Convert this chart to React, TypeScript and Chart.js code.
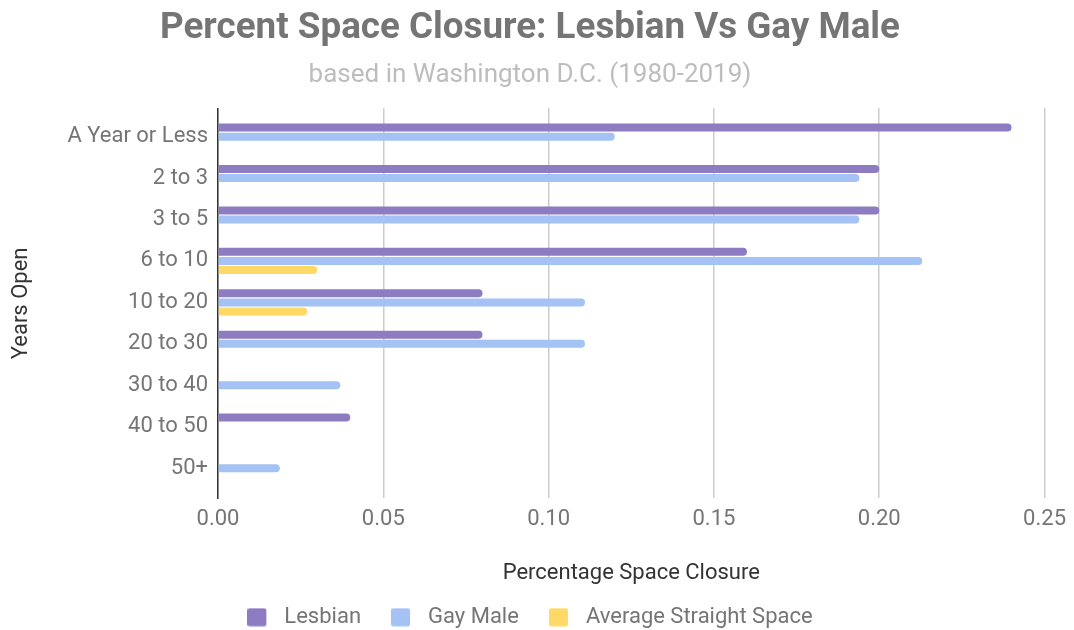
import React, { useEffect, useRef } from "react";
import { Chart, registerables } from "chart.js";

Chart.register(...registerables);

const categories = ["A Year or Less", "2 to 3", "3 to 5", "6 to 10", "10 to 20", "20 to 30", "30 to 40", "40 to 50", "50+"];
const lesbian = [0.24, 0.2, 0.2, 0.16, 0.08, 0.08, 0, 0.04, 0];
const gayMale = [0.12, 0.194, 0.194, 0.213, 0.111, 0.111, 0.037, 0, 0.0187];
const straight = [0, 0, 0, 0.03, 0.027, 0, 0, 0, 0];
const xTicks = [0, 0.05, 0.1, 0.15, 0.2, 0.25];
const seriesColors = ["#8e7cc3", "#a4c2f4", "#ffd966"];

const toPoints = (arr: number[]) => arr.map((v, i) => ({ x: v, y: i }));

function legendSwatch(color: string): HTMLCanvasElement {
  const c = document.createElement("canvas");
  c.width = 26;
  c.height = 19;
  const ctx = c.getContext("2d")!;
  ctx.fillStyle = color;
  ctx.beginPath();
  if ((ctx as any).roundRect) (ctx as any).roundRect(0, 0.5, 19, 18, 2);
  else ctx.rect(0, 0.5, 19, 18);
  ctx.fill();
  return c;
}

export default function App() {
  const ref = useRef<HTMLCanvasElement>(null);
  useEffect(() => {
    if (!ref.current) return;
    const font = "Roboto";
    const swatches = seriesColors.map(legendSwatch);
    const chart = new Chart(ref.current, {
      type: "bar",
      data: {
        datasets: [
          { label: "Lesbian", data: toPoints(lesbian), backgroundColor: seriesColors[0], borderRadius: 4 },
          { label: "Gay Male", data: toPoints(gayMale), backgroundColor: seriesColors[1], borderRadius: 4 },
          { label: "Average Straight Space", data: toPoints(straight), backgroundColor: seriesColors[2], borderRadius: 4 },
        ],
      },
      options: {
        indexAxis: "y",
        animation: false,
        responsive: true,
        maintainAspectRatio: false,
        datasets: { bar: { categoryPercentage: 0.66, barPercentage: 0.88 } },
        layout: { padding: { left: 12, right: 26, top: 0, bottom: -8.2 } },
        plugins: {
          title: {
            display: true,
            text: "Percent Space Closure: Lesbian Vs Gay Male",
            color: "#757575",
            font: { family: font, size: 36.8, weight: "bold", lineHeight: 1.2 },
            padding: { top: 7, bottom: 9 },
          },
          subtitle: {
            display: true,
            text: "based in Washington D.C. (1980-2019)",
            color: "#bdbdbd",
            font: { family: font, size: 26, lineHeight: 1.2 },
            padding: { top: 0, bottom: 17 },
          },
          legend: {
            position: "bottom",
            labels: {
              color: "#757575",
              font: { family: font, size: 22 },
              usePointStyle: true,
              pointStyleWidth: 26,
              boxHeight: 19,
              padding: 30,
              generateLabels: (ch: any) => {
                const items = Chart.defaults.plugins.legend.labels.generateLabels(ch);
                return items.map((it: any, i: number) => ({ ...it, pointStyle: swatches[i], lineWidth: 0 }));
              },
            },
          },
          tooltip: { enabled: false },
        },
        scales: {
          x: {
            type: "linear",
            min: 0,
            max: 0.25,
            afterBuildTicks: (scale: any) => {
              scale.ticks = xTicks.map((v) => ({ value: v }));
            },
            afterFit: (scale: any) => {
              scale.height = 77.8;
            },
            ticks: {
              color: "#757575",
              font: { family: font, size: 22 },
              padding: 8,
              callback: (v: any) => Number(v).toFixed(2),
            },
            grid: { color: "#cccccc", lineWidth: 1.5, drawTicks: false },
            border: { display: false },
            title: {
              display: true,
              text: "Percentage Space Closure",
              color: "#333333",
              font: { family: font, size: 22 },
              padding: { top: 0, bottom: -10 },
            },
          },
          y: {
            type: "linear",
            reverse: true,
            offset: false,
            min: -0.683,
            max: 8.73,
            afterBuildTicks: (scale: any) => {
              scale.ticks = categories.map((_, i) => ({ value: i }));
            },
            afterFit: (scale: any) => {
              scale.width = 206;
            },
            ticks: {
              color: "#757575",
              font: { family: font, size: 22 },
              padding: 10,
              callback: (v: any) => categories[Number(v)] ?? "",
            },
            grid: { display: false, drawTicks: false, offset: false },
            border: { display: true, color: "#333333", width: 1.5 },
            title: {
              display: true,
              text: "Years Open",
              color: "#333333",
              font: { family: font, size: 22 },
              padding: { top: -4, bottom: 0 },
            },
          },
        },
      },
    });
    return () => chart.destroy();
  }, []);
  return (
    <div style={{ position: "fixed", left: 0, top: 0, width: 1074, height: 630, background: "#fff" }}>
      <canvas ref={ref} />
    </div>
  );
}
